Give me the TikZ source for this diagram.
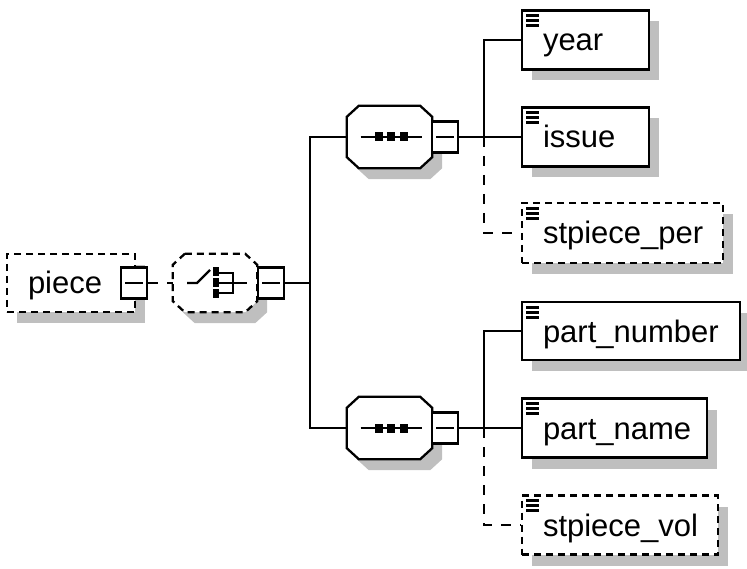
\documentclass[tikz,border=0pt]{standalone}
\usepackage{fontspec}
\setmainfont{Liberation Sans}
\usetikzlibrary{shadows}
\begin{document}
\begin{tikzpicture}[x=1pt,y=-1pt,
  every node/.style={font=\fontsize{31}{36}\selectfont},
  shd/.style={drop shadow={shadow xshift=10pt,shadow yshift=-11pt,fill=black!25,opacity=1}},
  boxdash/.style={dash pattern=on 7pt off 5pt},
  elem/.style={rectangle,draw,line width=2.4pt,fill=white,shd,minimum height=59pt,inner xsep=21pt,inner ysep=0pt,align=left,text height=22pt,text depth=0pt},
  opt/.style={elem,boxdash},
  minus/.style={rectangle,draw,line width=2.3pt,fill=white,minimum width=26pt,minimum height=31pt,inner sep=0pt},
  comp/.style={rectangle,draw=none,inner sep=0pt,minimum width=85pt,minimum height=62pt},
  octa/.style={line width=2.3pt,fill=white},
  octashadow/.style={fill=black!25,draw=none,transform canvas={xshift=10pt,yshift=-11pt}},
  conn/.style={line width=2.3pt},
  conndash/.style={conn,dash pattern=on 10pt off 9pt},
  icon/.style={line width=3pt}
]
\useasboundingbox (0,0) rectangle (747,569);
\def\octpath#1{([xshift=12pt]#1.north west) -- ([xshift=-12pt]#1.north east) -- ([yshift=-11pt]#1.north east) -- ([yshift=11pt]#1.south east) -- ([xshift=-12pt]#1.south east) -- ([xshift=12pt]#1.south west) -- ([yshift=11pt]#1.south west) -- ([yshift=-11pt]#1.north west) -- cycle}
% nodes
\node[opt,text width=86pt,minimum height=58pt] (piece) at (71,283) {piece};
\node[comp,minimum width=84pt,minimum height=58pt] (choice) at (215,283) {};
\node[comp] (seq1) at (389.5,137) {};
\node[comp] (seq2) at (389.5,428) {};
% compositor outlines
\foreach \n in {choice,seq1,seq2}
  \path[octashadow] \octpath{\n};
\draw[octa,boxdash] \octpath{choice};
\foreach \n in {seq1,seq2}
  \draw[octa] \octpath{\n};
\node[minus] (pieceM) at (134,283) {};
\node[minus] (choiceM) at (271,283) {};
\node[minus] (seq1M) at (445,137) {};
\node[minus] (seq2M) at (445,428) {};
\node[elem,text width=85pt] (year) at (585.5,40) {year};
\node[elem,text width=85pt] (issue) at (585.5,137) {issue};
\node[opt,text width=159pt,minimum height=60pt] (per) at (622.5,233) {stpiece\_per};
\node[elem,text width=176pt,minimum height=58pt] (pnum) at (631,331) {part\_number};
\node[elem,text width=143pt] (pname) at (614.5,428) {part\_name};
\node[opt,text width=154pt] (vol) at (620,525) {stpiece\_vol};
% connectors
\coordinate (J) at (310,283);
\coordinate (K1) at (484,137);
\coordinate (K2) at (484,428);
\draw[conndash] (pieceM.east) -- (choice.west);
\draw[conn] (choiceM.east) -- (J);
\draw[conn] (seq1.west) -| (J) |- (seq2.west);
\draw[conn] (seq1M.east) -- (issue.west);
\draw[conn] (year.west) -| (K1);
\draw[conndash] (K1) |- (per.west);
\draw[conn] (seq2M.east) -- (pname.west);
\draw[conn] (pnum.west) -| (K2);
\draw[conndash] (K2) |- (vol.west);
% minus signs
\foreach \n in {pieceM,choiceM,seq1M,seq2M}
  \draw[conn] ([xshift=-9pt]\n.center) -- ([xshift=9pt]\n.center);
% element icons
\foreach \n in {year,issue,per,pnum,pname,vol}{
  \foreach \d in {6.5,11.5,16.5}
    \draw[icon] ([xshift=5.5pt,yshift=-\d pt]\n.north west) -- ++(13,0);
}
% sequence icons
\foreach \n in {seq1,seq2}{
  \draw[conn] ([xshift=-29pt]\n.center) -- ([xshift=32pt]\n.center);
  \foreach \dx in {-11,1.5,14}
    \fill ([xshift=\dx pt]\n.center) +(-4,-4.5) rectangle +(4,4.5);
}
% choice icon
\begin{scope}[shift={(choice.center)}]
  \draw[conn] (-28,0) -- (-18,0) -- (-5,-13);
  \foreach \dy in {-11,0,11}
    \fill (0.5,\dy) +(-3,-4.5) rectangle +(3,4.5);
  \draw[conn] (4,-10) -- (18,-10) -- (18,10) -- (4,10);
  \draw[conn] (4,0) -- (32,0);
\end{scope}
\end{tikzpicture}
\end{document}
